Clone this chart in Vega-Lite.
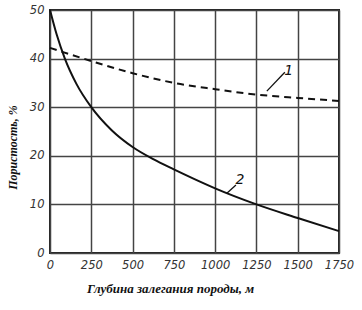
{
  "$schema": "https://vega.github.io/schema/vega-lite/v6.json",
  "autosize": "none",
  "width": 289,
  "height": 243,
  "padding": {"left": 50, "top": 10, "right": 23, "bottom": 57},
  "background": "white",
  "config": {
    "view": {"stroke": "#222", "strokeWidth": 2},
    "axis": {
      "labelFont": "DejaVu Sans",
      "labelFontStyle": "italic",
      "labelFontSize": 11.5,
      "labelColor": "#333",
      "labelOverlap": false,
      "labelFlush": false,
      "titleFont": "Liberation Serif",
      "titleFontStyle": "italic",
      "titleFontWeight": "bold",
      "titleFontSize": 11,
      "titleColor": "#111",
      "gridColor": "#444",
      "gridWidth": 1.5,
      "gridOpacity": 1,
      "domain": false,
      "ticks": false
    }
  },
  "datasets": {
    "curves": [
      {"depth": 0, "por": 50, "curve": "2"},
      {"depth": 40, "por": 45, "curve": "2"},
      {"depth": 90, "por": 40, "curve": "2"},
      {"depth": 160, "por": 34.8, "curve": "2"},
      {"depth": 250, "por": 30, "curve": "2"},
      {"depth": 375, "por": 25.2, "curve": "2"},
      {"depth": 500, "por": 21.8, "curve": "2"},
      {"depth": 625, "por": 19.3, "curve": "2"},
      {"depth": 750, "por": 17.2, "curve": "2"},
      {"depth": 875, "por": 15.2, "curve": "2"},
      {"depth": 1000, "por": 13.3, "curve": "2"},
      {"depth": 1250, "por": 10, "curve": "2"},
      {"depth": 1500, "por": 7.2, "curve": "2"},
      {"depth": 1750, "por": 4.5, "curve": "2"},
      {"depth": 0, "por": 42.2, "curve": "1"},
      {"depth": 250, "por": 39.5, "curve": "1"},
      {"depth": 500, "por": 37, "curve": "1"},
      {"depth": 750, "por": 35, "curve": "1"},
      {"depth": 1000, "por": 33.7, "curve": "1"},
      {"depth": 1250, "por": 32.6, "curve": "1"},
      {"depth": 1500, "por": 31.9, "curve": "1"},
      {"depth": 1750, "por": 31.3, "curve": "1"}
    ],
    "labels": [
      {"x": 1445, "y": 37.5, "label": "1", "x1": 1313, "y1": 33.3, "x2": 1422, "y2": 37.2},
      {"x": 1150, "y": 15, "label": "2", "x1": 1071, "y1": 12.3, "x2": 1126, "y2": 14}
    ]
  },
  "layer": [
    {
      "data": {"name": "curves"},
      "transform": [{"filter": "datum.curve == '2'"}],
      "mark": {"type": "line", "color": "#111", "strokeWidth": 2, "interpolate": "monotone"},
      "encoding": {
        "x": {
          "field": "depth", "type": "quantitative",
          "scale": {"domain": [0, 1750], "nice": false},
          "axis": {"values": [0, 250, 500, 750, 1000, 1250, 1500, 1750], "format": "d", "labelPadding": 6,
                   "title": "Глубина залегания породы, м", "titleFontSize": 13, "titleX": 120, "titleY": 35, "titleBaseline": "middle"}
        },
        "y": {
          "field": "por", "type": "quantitative",
          "scale": {"domain": [0, 50], "nice": false},
          "axis": {"values": [0, 10, 20, 30, 40, 50], "labelPadding": 6,
                   "title": "Пористость, %", "titleFontSize": 12, "titleX": -38, "titleY": 137, "titleAngle": -90, "titleBaseline": "middle", "titleAlign": "center"}
        }
      }
    },
    {
      "data": {"name": "curves"},
      "transform": [{"filter": "datum.curve == '1'"}],
      "mark": {"type": "line", "color": "#111", "strokeWidth": 2, "strokeDash": [7, 5], "interpolate": "monotone"},
      "encoding": {
        "x": {"field": "depth", "type": "quantitative"},
        "y": {"field": "por", "type": "quantitative"}
      }
    },
    {
      "data": {"name": "labels"},
      "mark": {"type": "rule", "color": "#111", "strokeWidth": 1.3},
      "encoding": {
        "x": {"field": "x1", "type": "quantitative"},
        "y": {"field": "y1", "type": "quantitative"},
        "x2": {"field": "x2"},
        "y2": {"field": "y2"}
      }
    },
    {
      "data": {"name": "labels"},
      "mark": {"type": "text", "font": "DejaVu Sans", "fontStyle": "italic", "fontSize": 14, "color": "#111", "baseline": "middle", "align": "center"},
      "encoding": {
        "x": {"field": "x", "type": "quantitative"},
        "y": {"field": "y", "type": "quantitative"},
        "text": {"field": "label"}
      }
    }
  ]
}
